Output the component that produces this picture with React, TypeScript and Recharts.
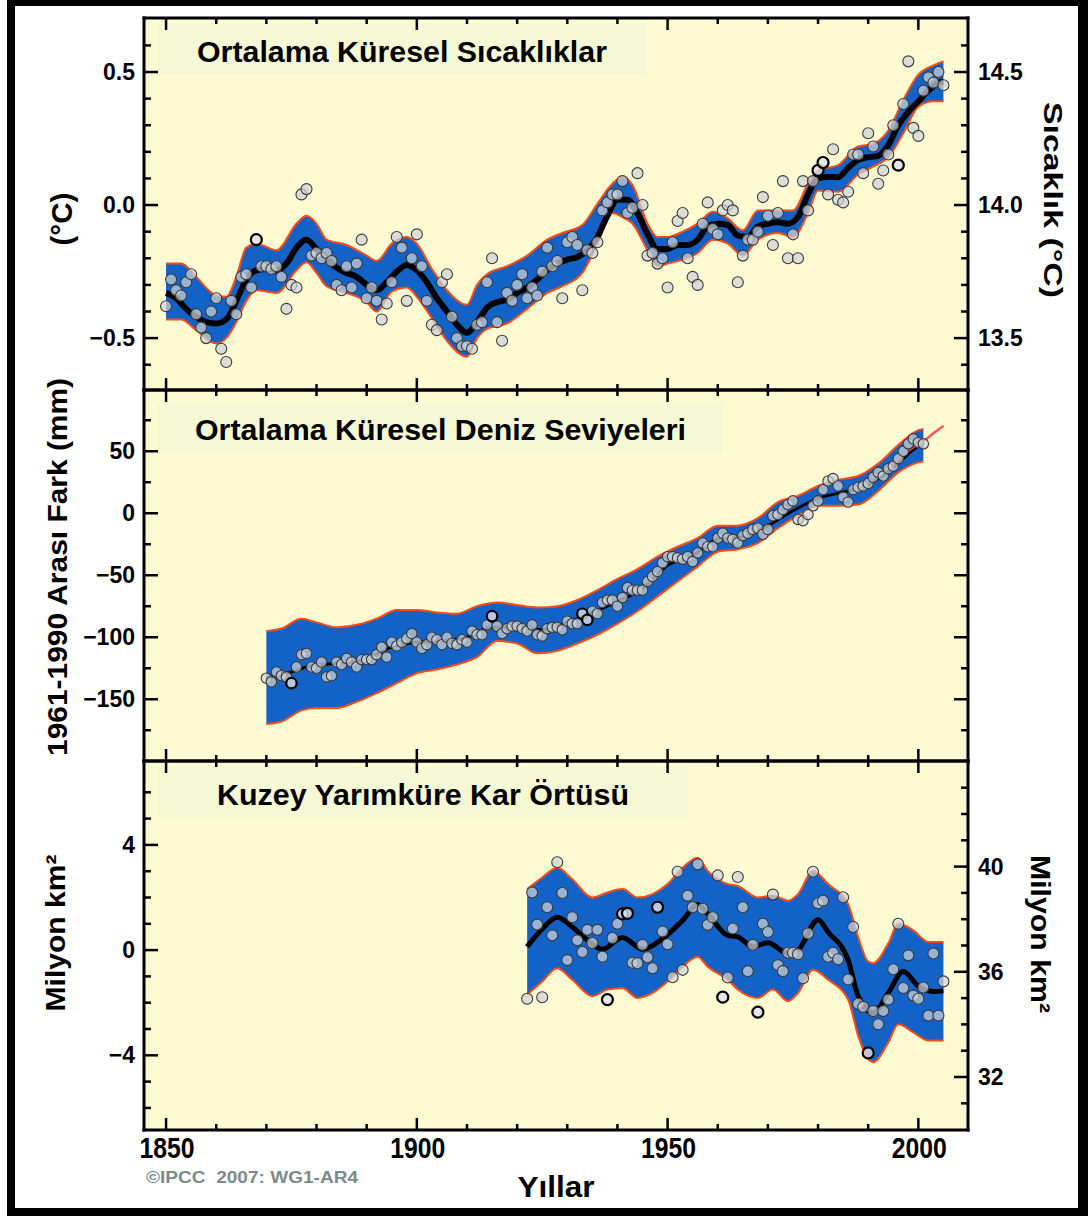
import React from "react";
import { ComposedChart, XAxis, YAxis, Area, Line, Scatter } from "recharts";

const FONT = '"Liberation Sans", Arial, Helvetica, sans-serif';
const CREAM = "#FEFAD2";
const BOX = "#F4F8D5";
const BLUE = "#1262C8";
const EDGE = "#FF4A12";
const PT_FILL = "rgba(205,210,216,0.72)";
const PT_STROKE = "#3a3a3a";

// shared time axis
const yearTicks = [1850, 1860, 1870, 1880, 1890, 1900, 1910, 1920, 1930, 1940, 1950, 1960, 1970, 1980, 1990, 2000];
const yearMajor = [1850, 1900, 1950, 2000];
const YEAR_DOMAIN: [number, number] = [1845.6, 2009.9];

// ---- Ortalama Küresel Sıcaklıklar (anomaly vs 1961-1990, °C)
const tempStart = 1850;
const tempAnnual = [
  -0.38, -0.28, -0.32, -0.34, -0.29, -0.26, -0.41, -0.46, -0.5, -0.4,
  -0.35, -0.54, -0.59, -0.36, -0.41, -0.27, -0.26, -0.31, -0.13, -0.23,
  -0.23, -0.24, -0.23, -0.27, -0.39, -0.3, -0.31, 0.04, 0.06, -0.19,
  -0.18, -0.2, -0.18, -0.21, -0.3, -0.32, -0.23, -0.31, -0.22, -0.13,
  -0.35, -0.31, -0.36, -0.43, -0.37, -0.29, -0.12, -0.16, -0.36, -0.2,
  -0.11, -0.23, -0.36, -0.45, -0.47, -0.29, -0.26, -0.42, -0.5, -0.53,
  -0.53, -0.54, -0.45, -0.44, -0.29, -0.2, -0.44, -0.51, -0.33, -0.36,
  -0.3, -0.26, -0.35, -0.31, -0.34, -0.25, -0.16, -0.23, -0.21,
  -0.35, -0.14, -0.12, -0.15, -0.32, -0.17, -0.18, -0.14, -0.02, 0.01,
  0.04, 0.04, 0.09, -0.03, -0.01, 0.12, 0.0, -0.19, -0.18, -0.22,
  -0.2, -0.31, -0.14, -0.06, -0.03, -0.2, -0.27, -0.3, -0.07, 0.01,
  -0.09, -0.11, -0.02, 0.0, -0.02, -0.29, -0.19, -0.13, -0.13, -0.1,
  0.03, -0.04, -0.15, -0.03, 0.09, -0.2, -0.11, -0.2, 0.09, -0.02,
  0.09, 0.13, 0.16, 0.04, 0.21, 0.02, 0.01, 0.05, 0.19, 0.19,
  0.12, 0.27, 0.22, 0.08, 0.13, 0.19, 0.3, 0.15, 0.38, 0.54,
  0.29, 0.26, 0.43, 0.48, 0.46, 0.5, 0.45,
];
const tempRinged = [1868, 1980, 1981, 1996];
const tempSmoothYears = [
  1850, 1852, 1854, 1856, 1858, 1860, 1862, 1864, 1866, 1868, 1870, 1872, 1874, 1876, 1878, 1880,
  1882, 1884, 1886, 1888, 1890, 1892, 1894, 1896, 1898, 1900, 1902, 1904, 1906, 1908, 1910, 1912,
  1914, 1916, 1918, 1920, 1922, 1924, 1926, 1928, 1930, 1932, 1934, 1936, 1938, 1940, 1942, 1944,
  1946, 1948, 1950, 1952, 1954, 1956, 1958, 1960, 1962, 1964, 1966, 1968, 1970, 1972, 1974, 1976,
  1978, 1980, 1982, 1984, 1986, 1988, 1990, 1992, 1994, 1996, 1998, 2000, 2002, 2004, 2005,
];
const tempSmooth = [
  -0.33, -0.35, -0.39, -0.42, -0.44, -0.445, -0.43, -0.36, -0.28, -0.245, -0.24, -0.245, -0.22, -0.16, -0.13, -0.165,
  -0.2, -0.235, -0.255, -0.27, -0.3, -0.32, -0.29, -0.25, -0.225, -0.245, -0.29, -0.35, -0.4, -0.45, -0.48, -0.44,
  -0.385, -0.365, -0.355, -0.33, -0.31, -0.28, -0.245, -0.22, -0.205, -0.195, -0.17, -0.12, -0.04, 0.02, 0.02, -0.03,
  -0.11, -0.165, -0.165, -0.15, -0.15, -0.13, -0.08, -0.07, -0.075, -0.115, -0.12, -0.08, -0.07, -0.065, -0.07, -0.045,
  0.04, 0.1, 0.105, 0.105, 0.14, 0.17, 0.18, 0.185, 0.225, 0.3, 0.35, 0.39, 0.43, 0.46, 0.465,
];
const tempBandYears = [
  1850, 1853, 1856, 1860, 1862, 1864, 1866, 1868, 1872, 1876, 1878, 1880, 1882, 1886, 1890, 1892, 1895, 1898,
  1900, 1903, 1906, 1910, 1912, 1914, 1918, 1922, 1926, 1929, 1933, 1936, 1939, 1941, 1943, 1946, 1948, 1950,
  1953, 1956, 1959, 1962, 1965, 1968, 1972, 1975, 1978, 1980, 1984, 1988, 1991, 1994, 1997, 2000, 2003, 2005,
];
const tempBandHigh = [
  -0.22, -0.22, -0.27, -0.34, -0.345, -0.27, -0.16, -0.145, -0.17, -0.07, -0.04, -0.07, -0.13, -0.15, -0.19, -0.21, -0.145, -0.12,
  -0.145, -0.24, -0.32, -0.375, -0.3, -0.26, -0.23, -0.19, -0.13, -0.105, -0.075, 0.005, 0.08, 0.105, 0.075, -0.07, -0.12, -0.12,
  -0.1, -0.07, -0.025, -0.05, -0.095, -0.02, -0.02, -0.02, 0.08, 0.13, 0.15, 0.22, 0.23, 0.28, 0.395, 0.49, 0.525, 0.54,
];
const tempBandLow = [
  -0.43, -0.43, -0.47, -0.52, -0.5, -0.44, -0.36, -0.32, -0.33, -0.245, -0.215, -0.255, -0.305, -0.33, -0.365, -0.4, -0.325, -0.31,
  -0.345, -0.425, -0.51, -0.57, -0.5, -0.465, -0.445, -0.39, -0.33, -0.305, -0.255, -0.145, -0.03, -0.045, -0.07, -0.17, -0.23, -0.22,
  -0.205, -0.18, -0.13, -0.145, -0.19, -0.13, -0.105, -0.12, -0.03, 0.055, 0.05, 0.115, 0.145, 0.18, 0.27, 0.37, 0.39, 0.39,
];
const tempTicks = [-0.6, -0.5, -0.4, -0.3, -0.2, -0.1, 0, 0.1, 0.2, 0.3, 0.4, 0.5, 0.6];
const tempMajors = [-0.5, 0, 0.5];
const tempLabels = ["\u22120.5", "0.0", "0.5"];
const tempRightLabels = ["13.5", "14.0", "14.5"];
const TEMP_DOMAIN: [number, number] = [-0.695, 0.703];

// ---- Ortalama Küresel Deniz Seviyeleri (mm)
const seaStart = 1870;
const seaAnnual = [
  -133, -136, -128, -131, -132, -137, -124, -114, -113, -124,
  -125, -120, -132, -131, -120, -122, -117, -120, -124, -118,
  -118, -118, -114, -108, -116, -104, -107, -104, -101, -97,
  -104, -109, -106, -100, -102, -106, -100, -105, -106, -102,
  -104, -95, -98, -98, -90, -83, -91, -97, -93, -91,
  -91, -93, -95, -90, -98, -99, -93, -92,
  -92, -94, -87, -89, -89, -81, -86, -79, -81, -72,
  -70, -70, -75, -68, -60, -62, -62, -62, -55, -51,
  -47, -40, -35, -35, -36, -37, -35, -39, -32, -24,
  -27, -27, -20, -16, -20, -21, -24, -18, -16, -13,
  -12, -17, -13, -2, -1, 3, 7, 10, -5, -6,
  -1, 6, 10, 19, 26, 28, 22, 13, 9, 19,
  21, 22, 24, 29, 33, 30, 36, 38, 44, 50,
  56, 60, 57, 56,
];
const seaRinged = [1875, 1915, 1933, 1934];
const seaSmoothYears = [
  1870, 1875, 1880, 1885, 1890, 1895, 1900, 1905, 1910, 1915, 1920, 1925, 1930, 1935,
  1940, 1945, 1950, 1955, 1960, 1965, 1970, 1975, 1980, 1985, 1990, 1995, 2000, 2001,
];
const seaSmooth = [
  -133, -128, -122, -121, -117, -108, -104, -103, -100, -92, -92, -94, -88, -80,
  -71, -61, -42, -34, -21, -19, -10, 2, 12, 17, 23, 37, 54, 56,
];
const seaBandYears = [
  1870, 1873, 1877, 1880, 1884, 1888, 1892, 1896, 1900, 1904, 1908, 1912, 1916, 1920, 1924, 1928, 1932, 1936,
  1940, 1944, 1948, 1952, 1956, 1960, 1964, 1968, 1972, 1976, 1980, 1984, 1988, 1992, 1996, 2000, 2001,
];
const seaBandHigh = [
  -95, -93, -85, -88, -92, -90, -85, -78, -78, -80, -81, -75, -72, -74, -76, -75, -70, -62,
  -53, -45, -35, -27, -20, -10, -10, -4, 9, 14, 22, 27, 30, 40, 55, 67, 68,
];
const seaBandLow = [
  -170, -168, -159, -157, -157, -152, -145, -137, -129, -126, -122, -116, -103, -105, -113, -111, -105, -98,
  -89, -79, -67, -55, -43, -31, -29, -24, -12, -2, 6, 6, 7, 18, 33, 41, 42,
];
const seaSatYears = [1993, 1995, 1997, 1999, 2001, 2003, 2005];
const seaSat = [34, 39.5, 47, 53, 58, 64.5, 70.5];
const seaTicks = [-175, -150, -125, -100, -75, -50, -25, 0, 25, 50, 75];
const seaMajors = [-150, -100, -50, 0, 50];
const seaLabels = ["\u2212150", "\u2212100", "\u221250", "0", "50"];
const SEA_DOMAIN: [number, number] = [-199.8, 99.4];

// ---- Kuzey Yarımküre Kar Örtüsü (milyon km², anomaly)
const snowStart = 1922;
const snowAnnual = [
  -1.85, 2.19, 0.97, -1.79, 1.63, 0.56, 3.34, 2.17,
  -0.38, 1.25, 0.37, -0.07, 0.77, 0.27, 0.77, -0.25, -1.88, 0.46,
  1.0, 1.38, 1.4, -0.48, -0.5, 0.2, -0.27, -0.69, 1.63, 0.71,
  0.22, -1.03, 2.98, -0.75, 2.07, 1.63, 3.26, 1.57, 0.96, 1.25,
  2.84, -1.79, -1.04, 0.82, 2.78, 1.63, -0.8, 0.2, -2.36, 1.0,
  0.69, 2.11, -0.57, -0.8, -0.1, -0.1, -0.16, -1.07, 0.63, 2.98,
  1.78, 1.88, -0.25, -0.1, -0.35, 2.01, -1.12, 0.88, -2.04, -2.16,
  -3.91, -2.32, -2.82, -2.32, -1.88, -0.73, 1.0, -1.44, -0.2, -1.73,
  -1.85, -1.42, -2.49, -0.13, -2.49, -1.19,
];
const snowRinged = [1938, 1941, 1942, 1948, 1961, 1968, 1990];
const snowSmoothYears = [
  1922, 1925, 1928, 1931, 1934, 1937, 1941, 1945, 1949, 1953, 1956, 1958, 1962, 1964,
  1967, 1970, 1974, 1976, 1980, 1982, 1986, 1988, 1991, 1994, 1997, 2000, 2003, 2005,
];
const snowSmooth = [
  0.13, 0.8, 1.25, 0.88, 0.38, 0.03, 0.48, 0.03, 0.44, 1.13, 1.73, 1.38, 0.56, 0.5,
  0.13, 0.28, -0.13, 0.0, 1.15, 0.69, -0.38, -1.75, -2.38, -1.63, -0.81, -1.38, -1.57, -1.55,
];
const snowBandYears = [
  1922, 1925, 1928, 1931, 1935, 1938, 1941, 1944, 1947, 1950, 1953, 1956, 1958, 1962, 1964,
  1968, 1971, 1974, 1976, 1979, 1982, 1986, 1988, 1990, 1991, 1994, 1996, 1999, 2002, 2005,
];
const snowBandHigh = [
  2.32, 2.76, 3.13, 2.69, 2.0, 2.19, 2.32, 2.0, 2.13, 2.51, 3.13, 3.51, 3.01, 2.51, 2.44,
  2.0, 2.07, 1.88, 2.13, 3.01, 2.51, 1.75, 0.5, -0.44, -0.5, 0.25, 1.0, 0.75, 0.31, 0.31,
];
const snowBandLow = [
  -1.69, -1.19, -0.69, -1.13, -1.75, -1.5, -1.44, -1.82, -1.63, -1.19, -0.63, -0.25, -0.63, -1.13, -1.5,
  -1.82, -1.5, -1.94, -1.63, -0.75, -1.13, -1.88, -3.26, -4.14, -4.26, -3.51, -2.82, -3.13, -3.44, -3.44,
];
const snowTicks = [-6, -5, -4, -3, -2, -1, 0, 1, 2, 3, 4, 5, 6];
const snowMajors = [-4, 0, 4];
const snowLabels = ["\u22124", "0", "4"];
const snowRightTicks = [31, 32, 33, 34, 35, 36, 37, 38, 39, 40, 41, 42, 43];
const snowRightMajors = [32, 36, 40];
const snowRightLabels = ["32", "36", "40"];
const SNOW_DOMAIN: [number, number] = [-6.84, 7.19];
const SNOW_RIGHT_DOMAIN: [number, number] = [29.985, 44.015];

// ---- rows for the library
const annualRows = (start: number, vals: number[]) => vals.map((v, i) => ({ year: start + i, v }));
const pairRows = (years: number[], vals: number[]) => years.map((year, i) => ({ year, v: vals[i] }));
const bandRows = (years: number[], lo: number[], hi: number[]) =>
  years.map((year, i) => ({ year, range: [lo[i], hi[i]] }));

const tempRows = annualRows(tempStart, tempAnnual);
const seaRows = annualRows(seaStart, seaAnnual);
const snowRows = annualRows(snowStart, snowAnnual);

type AxisSpec = { domain: [number, number]; ticks: number[]; majors: number[]; labels: string[] | null };

const FRAME = { stroke: "#000", strokeWidth: 3, strokeLinecap: "square" as const };

const yearTick = (dir: number, labels: boolean) => (p: any) => {
  const v = p.payload.value;
  const major = yearMajor.includes(v);
  return (
    <g>
      <line x1={p.x} x2={p.x} y1={p.y} y2={p.y + dir * (major ? 12 : 6)} stroke="#000" strokeWidth={2.5} />
      {labels && major && (
        <text x={p.x + 1} y={p.y + 28} textAnchor="middle" fontFamily={FONT} fontWeight="bold" fontSize={29}
          textLength={55} lengthAdjust="spacingAndGlyphs" fill="#000">{v}</text>
      )}
    </g>
  );
};

const valueTick = (dir: number, spec: AxisSpec) => (p: any) => {
  const v = p.payload.value;
  const i = spec.majors.findIndex((m) => Math.abs(m - v) < 1e-6);
  return (
    <g>
      <line x1={p.x} x2={p.x + dir * (i >= 0 ? 14 : 7)} y1={p.y} y2={p.y} stroke="#000" strokeWidth={2.5} />
      {spec.labels && i >= 0 && (
        <text x={dir > 0 ? p.x - 9 : p.x + 10} y={p.y + 8} textAnchor={dir > 0 ? "end" : "start"}
          fontFamily={FONT} fontWeight="bold" fontSize={23} fill="#000">{spec.labels[i]}</text>
      )}
    </g>
  );
};

const frameAxes = (left: AxisSpec, right: AxisSpec, xLabels: boolean, xHeight: number) => [
  <XAxis key="xt" xAxisId="top" orientation="top" type="number" dataKey="year" domain={YEAR_DOMAIN} allowDataOverflow
    ticks={yearTicks} interval={0} height={10} tickSize={0} tickMargin={0} tickLine={false} axisLine={FRAME} tick={yearTick(1, false)} />,
  <XAxis key="xb" type="number" dataKey="year" domain={YEAR_DOMAIN} allowDataOverflow
    ticks={yearTicks} interval={0} height={xHeight} tickSize={0} tickMargin={0} tickLine={false} axisLine={FRAME} tick={yearTick(-1, xLabels)} />,
  <YAxis key="yl" type="number" domain={left.domain} allowDataOverflow ticks={left.ticks} interval={0} width={40}
    tickSize={0} tickMargin={0} tickLine={false} axisLine={FRAME} tick={valueTick(1, left)} />,
  <YAxis key="yr" yAxisId="right" orientation="right" type="number" domain={right.domain} allowDataOverflow
    ticks={right.ticks} interval={0} width={40} tickSize={0} tickMargin={0} tickLine={false} axisLine={FRAME} tick={valueTick(-1, right)} />,
];

const dot = (ringed: boolean, r: number) => (p: any) =>
  p.cx == null ? <g /> : (
    <circle cx={p.cx} cy={p.cy} r={r} fill={ringed ? "rgba(222,226,230,0.8)" : PT_FILL}
      stroke={ringed ? "#000" : PT_STROKE} strokeWidth={ringed ? 2.2 : 1.1} />
  );

const series = (band: any[], smooth: any[], rows: any[], ringed: number[], lineW: number, r: number) => [
  <Area key="band" data={band} dataKey="range" type="monotone" fill={BLUE} fillOpacity={1} stroke={EDGE} strokeWidth={2}
    dot={false} activeDot={false} isAnimationActive={false} />,
  <Line key="smooth" data={smooth} dataKey="v" type="monotone" stroke="#000" strokeWidth={lineW}
    dot={false} activeDot={false} isAnimationActive={false} />,
  <Scatter key="pts" data={rows.filter((d) => !ringed.includes(d.year))} dataKey="v" shape={dot(false, r)} isAnimationActive={false} />,
  <Scatter key="ring" data={rows.filter((d) => ringed.includes(d.year))} dataKey="v" shape={dot(true, r)} isAnimationActive={false} />,
];

const tx = { fontFamily: FONT, fontWeight: "bold" as const, fill: "#000" };

export default function App() {
  return (
    <div style={{ position: "relative", width: 1088, height: 1216, background: "#fff", overflow: "hidden" }}>
      <style>{"body{margin:0}"}</style>
      <svg width={1088} height={1216} style={{ position: "absolute", left: 0, top: 0 }}>
        <rect x={7} y={0} width={1081} height={6} fill="#000" />
        <rect x={7} y={0} width={8} height={1216} fill="#000" />
        <rect x={1078} y={0} width={10} height={1216} fill="#000" />
        <rect x={7} y={1208} width={1081} height={8} fill="#000" />
        <rect x={144} y={18} width={824} height={1112} fill={CREAM} />
        <rect x={158} y={23} width={488} height={52} fill={BOX} />
        <rect x={158} y={402} width={565} height={50} fill={BOX} />
        <rect x={158} y={767} width={530} height={50} fill={BOX} />
        <text x={197} y={62} fontSize={29} textLength={410} lengthAdjust="spacingAndGlyphs" {...tx}>Ortalama Küresel Sıcaklıklar</text>
        <text x={195} y={440} fontSize={29} textLength={491} lengthAdjust="spacingAndGlyphs" {...tx}>Ortalama Küresel Deniz Seviyeleri</text>
        <text x={217} y={805} fontSize={29} textLength={412} lengthAdjust="spacingAndGlyphs" {...tx}>Kuzey Yarımküre Kar Örtüsü</text>
        <text transform="translate(72,219) rotate(-90)" textAnchor="middle" fontSize={30} textLength={53} lengthAdjust="spacingAndGlyphs" {...tx}>(°C)</text>
        <text transform="translate(67,567) rotate(-90)" textAnchor="middle" fontSize={28} textLength={378} lengthAdjust="spacingAndGlyphs" {...tx}>1961-1990 Arası Fark (mm)</text>
        <text transform="translate(65,933) rotate(-90)" textAnchor="middle" fontSize={28} textLength={157} lengthAdjust="spacingAndGlyphs" {...tx}>Milyon km²</text>
        <text transform="translate(1044,200) rotate(90)" textAnchor="middle" fontSize={25} textLength={196} lengthAdjust="spacingAndGlyphs" {...tx}>Sıcaklık (°C)</text>
        <text transform="translate(1031,934) rotate(90)" textAnchor="middle" fontSize={28} textLength={158} lengthAdjust="spacingAndGlyphs" {...tx}>Milyon km²</text>
        <text x={556} y={1197} textAnchor="middle" fontSize={29} textLength={77} lengthAdjust="spacingAndGlyphs" {...tx}>Yıllar</text>
        <text x={146} y={1183} fontSize={17} textLength={212} lengthAdjust="spacingAndGlyphs" fontFamily={FONT} fontWeight="bold" fill="#7D8B8B">{"©IPCC\u00a0\u00a02007: WG1-AR4"}</text>
      </svg>

      <div style={{ position: "absolute", left: 0, top: 0 }}>
        <ComposedChart width={1088} height={400} margin={{ top: 8, right: 80, bottom: 5, left: 104 }}>
          {frameAxes(
            { domain: TEMP_DOMAIN, ticks: tempTicks, majors: tempMajors, labels: tempLabels },
            { domain: TEMP_DOMAIN, ticks: tempTicks, majors: tempMajors, labels: tempRightLabels },
            false, 5)}
          {series(bandRows(tempBandYears, tempBandLow, tempBandHigh), pairRows(tempSmoothYears, tempSmooth), tempRows, tempRinged, 6, 5.5)}
        </ComposedChart>
      </div>

      <div style={{ position: "absolute", left: 0, top: 380 }}>
        <ComposedChart width={1088} height={391} margin={{ top: 0, right: 80, bottom: 5, left: 104 }}>
          {frameAxes(
            { domain: SEA_DOMAIN, ticks: seaTicks, majors: seaMajors, labels: seaLabels },
            { domain: SEA_DOMAIN, ticks: seaTicks, majors: seaMajors, labels: null },
            false, 5)}
          {series(bandRows(seaBandYears, seaBandLow, seaBandHigh), pairRows(seaSmoothYears, seaSmooth), seaRows, seaRinged, 3, 5.2)}
          <Line data={pairRows(seaSatYears, seaSat)} dataKey="v" type="monotone" stroke="#F03C46" strokeOpacity={0.85} strokeWidth={2.5}
            dot={false} activeDot={false} isAnimationActive={false} />
        </ComposedChart>
      </div>

      <div style={{ position: "absolute", left: 0, top: 751 }}>
        <ComposedChart width={1088} height={465} margin={{ top: 0, right: 80, bottom: 56, left: 104 }}>
          {frameAxes(
            { domain: SNOW_DOMAIN, ticks: snowTicks, majors: snowMajors, labels: snowLabels },
            { domain: SNOW_RIGHT_DOMAIN, ticks: snowRightTicks, majors: snowRightMajors, labels: snowRightLabels },
            true, 30)}
          {series(bandRows(snowBandYears, snowBandLow, snowBandHigh), pairRows(snowSmoothYears, snowSmooth), snowRows, snowRinged, 5, 5.5)}
        </ComposedChart>
      </div>
    </div>
  );
}
